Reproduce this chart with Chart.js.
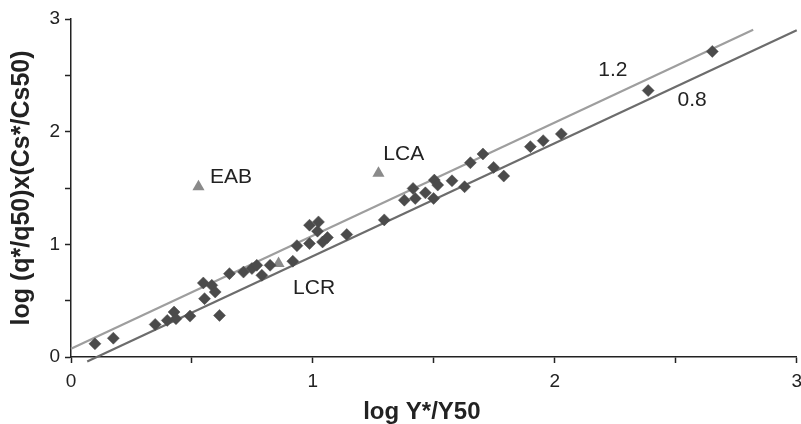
<!DOCTYPE html>
<html>
<head>
<meta charset="utf-8">
<script src="https://cdn.jsdelivr.net/npm/chart.js@4/dist/chart.umd.min.js"></script>
<style>
  html, body { margin: 0; padding: 0; background: #fff; overflow: hidden; }
  #wrap { width: 809px; height: 424px; position: relative; }
</style>
</head>
<body>
<div id="wrap"><canvas id="chart"></canvas></div>
<script>
// log Y*/Y50 vs log (q*/q50)x(Cs*/Cs50)
const diamondX = [0.099, 0.175, 0.348, 0.398, 0.426, 0.434, 0.492, 0.614, 0.552, 0.547,
                  0.582, 0.596, 0.655, 0.713, 0.748, 0.768, 0.789, 0.823, 0.917, 0.934,
                  0.986, 0.986, 1.023, 1.019, 1.040, 1.060, 1.140, 1.295, 1.378, 1.414,
                  1.423, 1.465, 1.499, 1.502, 1.516, 1.575, 1.627, 1.651, 1.703, 1.747,
                  1.789, 1.899, 1.952, 2.027, 2.386, 2.651];
const diamondY = [0.117, 0.167, 0.289, 0.325, 0.399, 0.340, 0.363, 0.369, 0.518, 0.657,
                  0.636, 0.577, 0.740, 0.754, 0.785, 0.814, 0.725, 0.814, 0.850, 0.988,
                  1.007, 1.170, 1.199, 1.117, 1.021, 1.060, 1.087, 1.217, 1.392, 1.496,
                  1.407, 1.457, 1.407, 1.570, 1.526, 1.564, 1.511, 1.724, 1.802, 1.683,
                  1.606, 1.867, 1.920, 1.980, 2.365, 2.712];

// outliers (triangles)
const triNames = ['EAB', 'LCA', 'LCR'];
const triX = [0.527, 1.271, 0.858];
const triY = [1.511, 1.630, 0.829];

// the two reference lines
const upperX = [0, 2.82];
const upperY = [0.073, 2.905];
const lowerX = [0.067, 3.0];
const lowerY = [-0.04, 2.90];

// text notes, anchored in data units (left edge, middle)
const noteText = ['EAB', 'LCA', 'LCR', '1.2', '0.8'];
const noteX = [0.575, 1.291, 0.918, 2.180, 2.507];
const noteY = [1.599, 1.802, 0.609, 2.549, 2.282];

const tickValues = [0, 1, 2, 3];
const xTitle = 'log Y*/Y50';
const yTitle = 'log (q*/q50)x(Cs*/Cs50)';

const FONT = '"Liberation Sans", Arial, Helvetica, sans-serif';
const INK = '#222';

const zip = (xs, ys) => xs.map((x, i) => ({ x, y: ys[i] }));

// notes + the x title (the original sits a bit left of the plot centre)
const notesPlugin = {
    id: 'notes',
    afterDraw(chart) {
        const { ctx, chartArea, scales: { x, y } } = chart;
        ctx.save();
        ctx.fillStyle = INK;
        ctx.font = '21px ' + FONT;
        ctx.textAlign = 'left';
        ctx.textBaseline = 'middle';
        noteText.forEach((t, i) => {
            ctx.fillText(t, x.getPixelForValue(noteX[i]), y.getPixelForValue(noteY[i]));
        });
        ctx.font = 'bold 24px ' + FONT;
        ctx.textAlign = 'center';
        ctx.fillText(xTitle, (chartArea.left + chartArea.right) / 2 - 12, 412);
        ctx.restore();
    }
};

function axisOpts(isX) {
    return {
        type: 'linear',
        min: 0,
        max: 3,
        ticks: {
            stepSize: 0.5,
            autoSkip: false,
            maxRotation: 0,
            color: INK,
            font: { family: FONT, size: 19 },
            padding: isX ? 7 : 5,
            callback: v => tickValues.includes(v) ? String(v) : ''
        },
        grid: {
            drawOnChartArea: false,
            drawTicks: true,
            tickLength: 6,
            tickColor: INK,
            tickWidth: 1.5
        },
        border: { display: true, color: INK, width: 1.5 },
        title: {
            display: !isX,
            text: yTitle,
            color: INK,
            font: { family: FONT, size: 25, weight: 'bold', lineHeight: 1 },
            padding: { top: 10, bottom: 0 }
        },
        afterFit: s => {
            if (isX) s.height = 67; else s.width = 71;
        }
    };
}

new Chart(document.getElementById('chart'), {
    type: 'scatter',
    data: {
        datasets: [
            {
                label: 'data',
                data: zip(diamondX, diamondY),
                pointStyle: 'rectRot',
                pointRadius: 6,
                backgroundColor: '#4b4b4b',
                borderColor: '#4b4b4b',
                borderWidth: 0.5
            },
            {
                label: 'outliers',
                data: zip(triX, triY),
                pointStyle: 'triangle',
                pointRadius: 7,
                backgroundColor: '#8a8a8a',
                borderColor: '#8a8a8a',
                borderWidth: 0
            },
            {
                label: '1.2',
                data: zip(upperX, upperY),
                showLine: true,
                pointRadius: 0,
                borderColor: '#9e9e9e',
                borderWidth: 2.2,
                clip: false
            },
            {
                label: '0.8',
                data: zip(lowerX, lowerY),
                showLine: true,
                pointRadius: 0,
                borderColor: '#6c6c6c',
                borderWidth: 2.2,
                clip: false
            }
        ]
    },
    options: {
        responsive: true,
        maintainAspectRatio: false,
        animation: false,
        layout: { padding: { top: 19, right: 5, left: 0, bottom: 0 } },
        plugins: {
            legend: { display: false },
            tooltip: { enabled: false }
        },
        scales: {
            x: axisOpts(true),
            y: axisOpts(false)
        }
    },
    plugins: [notesPlugin]
});
</script>
</body>
</html>
